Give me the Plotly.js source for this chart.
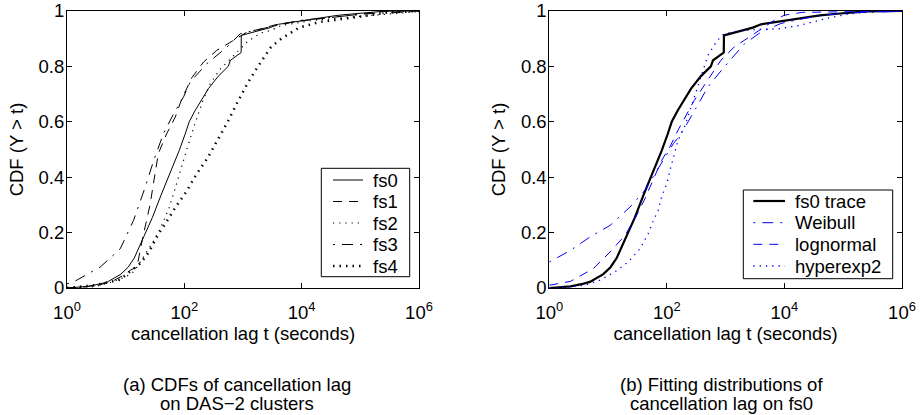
<!DOCTYPE html>
<html><head><meta charset="utf-8">
<script src="https://cdn.plot.ly/plotly-3.0.1.min.js"></script>
<style>html,body{margin:0;padding:0;background:#fff}#chart{width:922px;height:415px}</style>
</head><body><div id="chart"></div>
<script>
// ---- tick labels ----
const xTickVals = [1, 100, 10000, 1000000];
const xTickText = ['10<sup>0</sup>', '10<sup>2</sup>', '10<sup>4</sup>', '10<sup>6</sup>'];
const yTickVals = [0, 0.2, 0.4, 0.6, 0.8, 1];
const yTickText = ['0', '0.2', '0.4', '0.6', '0.8', '1'];

// ---- panel (a): CDFs of cancellation lag on DAS-2 clusters ----
const fs0T = [1, 2.3, 3.7, 4.9, 8.3, 11, 14, 19, 23, 28.6, 40, 47, 59, 69, 82, 103, 121, 152, 200, 258, 380, 530, 560, 610, 800, 930, 935, 1200, 1820, 2900, 4000, 9500, 20000, 40000, 80000, 150000, 250000, 1000000];
const fs0Y = [0, 0.006, 0.015, 0.022, 0.05, 0.075, 0.108, 0.17, 0.21, 0.255, 0.335, 0.37, 0.425, 0.46, 0.497, 0.555, 0.6, 0.64, 0.68, 0.72, 0.765, 0.795, 0.8, 0.822, 0.842, 0.85, 0.912, 0.918, 0.93, 0.94, 0.952, 0.965, 0.975, 0.984, 0.99, 0.995, 0.999, 1];

const fs1T = [1, 2, 3.7, 6, 9, 12, 15.6, 19, 26, 36, 50, 70, 91, 135, 213, 357, 690, 1170, 2000, 3500, 8000, 20000, 60000, 150000, 300000, 1000000];
const fs1Y = [0, 0.004, 0.012, 0.025, 0.045, 0.064, 0.076, 0.17, 0.3, 0.485, 0.557, 0.617, 0.684, 0.76, 0.816, 0.858, 0.894, 0.924, 0.935, 0.95, 0.962, 0.972, 0.985, 0.995, 1, 1];

const fs2T = [1, 3, 5.5, 10, 14, 20, 30, 40, 55, 70, 90, 110, 150, 210, 280, 410, 700, 1200, 2000, 3000, 4500, 14000, 70000, 300000, 1000000];
const fs2Y = [0, 0.005, 0.02, 0.04, 0.06, 0.11, 0.17, 0.22, 0.29, 0.36, 0.44, 0.5, 0.59, 0.68, 0.74, 0.79, 0.84, 0.89, 0.92, 0.93, 0.948, 0.965, 0.978, 0.99, 0.998];

const fs3T = [1, 1.3, 3.7, 8.1, 13.6, 21.6, 30, 44, 66, 97, 126, 243, 534, 900, 2570, 9400, 35000, 130000, 480000, 1000000];
const fs3Y = [0.015, 0.022, 0.076, 0.142, 0.244, 0.365, 0.46, 0.557, 0.63, 0.69, 0.744, 0.81, 0.87, 0.918, 0.94, 0.966, 0.978, 0.99, 0.995, 1];

const fs4T = [1, 3, 8, 12, 18, 25, 35, 50, 70, 110, 160, 250, 360, 550, 800, 1200, 1800, 3000, 4500, 9000, 20000, 60000, 150000, 300000, 1000000];
const fs4Y = [0, 0.01, 0.03, 0.06, 0.09, 0.13, 0.19, 0.24, 0.29, 0.35, 0.41, 0.47, 0.53, 0.6, 0.67, 0.74, 0.8, 0.87, 0.9, 0.94, 0.96, 0.973, 0.985, 0.995, 1];

// ---- panel (b): fitted distributions on fs0 ----
const weibullT = [1, 2.3, 4.9, 10.8, 23.5, 42.5, 63, 93, 129, 167, 230, 500, 945, 2100, 4000, 8700, 28000, 100000, 1000000];
const weibullY = [0.094, 0.136, 0.184, 0.226, 0.292, 0.353, 0.413, 0.473, 0.521, 0.551, 0.6, 0.726, 0.798, 0.882, 0.924, 0.955, 0.978, 0.993, 0.999];

const lognormT = [1, 2.3, 5.6, 10.8, 19.4, 28.6, 42.5, 59, 81, 113, 155, 292, 500, 830, 1400, 3100, 6700, 10000, 20000, 1000000];
const lognormY = [0.01, 0.024, 0.07, 0.13, 0.19, 0.25, 0.323, 0.395, 0.46, 0.51, 0.57, 0.677, 0.75, 0.822, 0.87, 0.918, 0.966, 0.985, 0.995, 1];

const hyperT = [1, 2.3, 4, 7.3, 13, 22, 35, 48, 59, 71, 81, 100, 113, 137, 155, 204, 292, 400, 500, 700, 900, 1300, 2700, 8000, 18000, 52000, 130000, 320000, 1000000];
const hyperY = [0, 0.004, 0.01, 0.028, 0.058, 0.094, 0.142, 0.196, 0.244, 0.28, 0.328, 0.377, 0.425, 0.485, 0.533, 0.587, 0.69, 0.78, 0.84, 0.89, 0.915, 0.925, 0.932, 0.936, 0.948, 0.973, 0.99, 0.997, 1];

const FONT = 'Liberation Sans, Arial, Helvetica, sans-serif';
const FS = 18.5;
const BLUE = '#0000ff';

// figure geometry (pixels)
const W = 922, H = 415, ML = 67, MR = 20, MT = 11, MB = 127;
const PW = W - ML - MR, PH = H - MT - MB;
const px = v => (v - ML) / PW;
const py = v => (H - MB - v) / PH;

const styles = {
  fs0: {color: '#000', width: 1},
  fs1: {color: '#000', width: 1, dash: '9px,7px'},
  fs2: {color: '#000', width: 1.2, dash: '1.2px,5px'},
  fs3: {color: '#000', width: 1, dash: '2px,7px,11px,7px'},
  fs4: {color: '#000', width: 2.5, dash: '1.5px,5px'},
  trace: {color: '#000', width: 2.2},
  weibull: {color: BLUE, width: 1, dash: '2px,7px,11px,7px'},
  lognormal: {color: BLUE, width: 1, dash: '9px,7px'},
  hyper: {color: BLUE, width: 1.3, dash: '1.3px,5px'}
};

function tr(x, y, name, line, xa, ya) {
  return {x: x, y: y, name: name, type: 'scatter', mode: 'lines', line: line,
          xaxis: xa, yaxis: ya, showlegend: false, hoverinfo: 'skip'};
}

const data = [
  tr(fs0T, fs0Y, 'fs0', styles.fs0, 'x', 'y'),
  tr(fs1T, fs1Y, 'fs1', styles.fs1, 'x', 'y'),
  tr(fs2T, fs2Y, 'fs2', styles.fs2, 'x', 'y'),
  tr(fs3T, fs3Y, 'fs3', styles.fs3, 'x', 'y'),
  tr(fs4T, fs4Y, 'fs4', styles.fs4, 'x', 'y'),
  tr(fs0T, fs0Y, 'fs0 trace', styles.trace, 'x2', 'y2'),
  tr(weibullT, weibullY, 'Weibull', styles.weibull, 'x2', 'y2'),
  tr(lognormT, lognormY, 'lognormal', styles.lognormal, 'x2', 'y2'),
  tr(hyperT, hyperY, 'hyperexp2', styles.hyper, 'x2', 'y2')
];

function xax(domain, anchor) {
  return {domain: domain, anchor: anchor, type: 'log', range: [0, 6],
          tickmode: 'array', tickvals: xTickVals, ticktext: xTickText,
          ticks: 'inside', ticklen: 5, tickwidth: 1, tickcolor: '#000',
          showline: true, linecolor: '#000', linewidth: 1, mirror: 'ticks',
          showgrid: false, zeroline: false, ticklabelstandoff: 8,
          tickfont: {family: FONT, size: FS, color: '#000'},
          title: {text: 'cancellation lag t (seconds)', font: {family: FONT, size: FS, color: '#000'}, standoff: 0}};
}
function yax(anchor) {
  return {anchor: anchor, range: [0, 1],
          tickmode: 'array', tickvals: yTickVals, ticktext: yTickText,
          ticks: 'inside', ticklen: 5, tickwidth: 1, tickcolor: '#000',
          showline: true, linecolor: '#000', linewidth: 1, mirror: 'ticks',
          showgrid: false, zeroline: false, ticklabelstandoff: -2,
          tickfont: {family: FONT, size: FS, color: '#000'},
          title: {text: 'CDF (Y > t)', font: {family: FONT, size: FS, color: '#000'}, standoff: 10}};
}

const shapes = [];
const annotations = [];
const txtFont = {family: FONT, size: FS, color: '#000'};

// hand-placed legend boxes (positions in pixels), entries taken from the traces
function legendBox(box, sampleX0, sampleX1, textX, rowY, traceIdx) {
  shapes.push({type: 'rect', xref: 'paper', yref: 'paper', layer: 'above',
               x0: px(box[0]), x1: px(box[2]), y0: py(box[3]), y1: py(box[1]),
               line: {color: '#000', width: 1}, fillcolor: '#fff'});
  traceIdx.forEach((ti, k) => {
    const t = data[ti];
    shapes.push({type: 'line', xref: 'paper', yref: 'paper', layer: 'above',
                 x0: px(sampleX0), x1: px(sampleX1), y0: py(rowY[k]), y1: py(rowY[k]),
                 line: Object.assign({}, t.line)});
    annotations.push({xref: 'paper', yref: 'paper', x: px(textX), y: py(rowY[k]),
                      xanchor: 'left', yanchor: 'middle', text: t.name, showarrow: false,
                      font: txtFont, borderpad: 0});
  });
}
legendBox([321.3, 168.3, 409.7, 276.7], 333, 363, 372, [180, 201.5, 223, 244.5, 266], [0, 1, 2, 3, 4]);
legendBox([743.3, 190, 892.7, 278.7], 753.3, 785, 794, [201, 222.7, 244.3, 266], [5, 6, 7, 8]);

function cap(xpix, ypix, text) {
  annotations.push({xref: 'paper', yref: 'paper', x: px(xpix), y: py(ypix), xanchor: 'center', yanchor: 'middle',
                    text: text, showarrow: false, font: txtFont});
}
cap(237, 384, '(a) CDFs of cancellation lag');
cap(237, 403, 'on DAS\u22122 clusters');
cap(721, 384, '(b) Fitting distributions of');
cap(721, 403, 'cancellation lag on fs0');

const layout = {
  width: W, height: H,
  margin: {l: ML, r: MR, t: MT, b: MB, pad: 0},
  paper_bgcolor: '#fff', plot_bgcolor: '#fff',
  font: {family: FONT, color: '#000'},
  showlegend: false,
  xaxis: xax([0, px(419)], 'y'),
  yaxis: yax('x'),
  xaxis2: xax([px(549.3), 1], 'y2'),
  yaxis2: yax('x2'),
  shapes: shapes,
  annotations: annotations
};

Plotly.newPlot('chart', data, layout, {staticPlot: true, displayModeBar: false});
</script>
</body></html>
